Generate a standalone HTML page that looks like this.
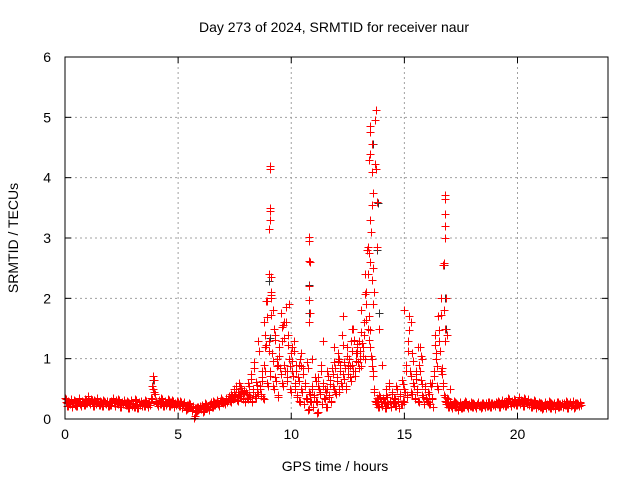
<!DOCTYPE html>
<html><head><meta charset="utf-8"><style>
html,body{margin:0;padding:0;background:#fff}
svg{display:block;font-family:"Liberation Sans",sans-serif}
</style></head><body>
<svg id="chart" width="640" height="480">
<rect width="640" height="480" fill="#fff"/>
<g id="grid"></g>
<g id="marks"></g>
<g id="axes"></g>
<text x="334" y="32" text-anchor="middle" font-size="14">Day 273 of 2024, SRMTID for receiver naur</text>
<text x="335" y="471" text-anchor="middle" font-size="14">GPS time / hours</text>
<text x="18" y="238" text-anchor="middle" font-size="14" transform="rotate(-90 18 238)">SRMTID / TECUs</text>
</svg>
<script>
const xTicks=[0,5,10,15,20];
const yTicks=[0,1,2,3,4,5,6];
const sampleStep=0.05;
const baseValues=[
.35,.28,.22,.30,.25,.33,.20,.27,.31,.24,.22,.29,.35,.26,.21,.30,.28,.24,.33,.27,
.38,.30,.25,.33,.28,.22,.31,.26,.35,.29,.24,.30,.27,.21,.32,.28,.25,.30,.22,.27,
.24,.30,.35,.27,.22,.31,.26,.33,.28,.20,.29,.25,.32,.27,.23,.30,.18,.26,.31,.22,
.27,.20,.33,.25,.18,.29,.24,.30,.22,.27,.21,.32,.26,.20,.28,.24,.35,.55,.72,.45,
.30,.26,.22,.31,.25,.35,.28,.21,.30,.24,.27,.33,.22,.29,.25,.31,.20,.27,.24,.30,
.26,.22,.30,.18,.25,.28,.21,.15,.24,.19,.26,.20,.14,.22,.02,.18,.12,.20,.15,.22,
.17,.24,.12,.20,.26,.18,.22,.15,.25,.28,.20,.30,.23,.27,.32,.26,.22,.30,.34,.28,
.30,.26,.35,.29,.33,.38,.30,.42,.35,.50,.40,.55,.32,.45,.60,.38,.52,.35,.48,.30,
.45,.35,.60,.40,.75,.30,.50,.95,.38,.62,.45,1.30,.55,.42,.70,.35,.90,1.40,1.95,.60,
1.30,.80,2.00,1.10,.55,1.50,.70,1.00,.40,1.20,.85,1.75,.60,1.55,.90,1.85,.70,1.40,1.00,.50,
1.10,.80,1.30,.55,.90,.40,.70,.30,1.00,.50,.85,.25,.60,.35,.95,.15,.45,.30,.55,.20,
.40,.70,.30,.10,.55,.45,.90,.25,.60,.35,.50,.20,.80,.40,.65,.30,.85,.55,.95,.45,
.70,1.10,.50,.90,.60,1.40,.75,.95,.55,1.20,.85,1.00,.70,1.30,.90,1.50,.80,1.10,1.25,.95,
1.30,1.00,1.45,1.20,1.60,2.40,1.90,2.80,1.50,1.70,1.20,1.00,.80,.50,.30,.25,.35,.20,.40,.30,
.22,.35,.28,.18,.40,.25,.60,.30,.20,.45,.28,.35,.22,.55,.30,.18,.42,.25,.65,.30,
.50,.90,.40,1.30,1.70,.80,.45,1.10,.60,.35,.75,.50,.30,.90,1.20,.65,.40,.25,.55,.35,
.30,.45,.25,.60,.35,.20,.80,1.40,1.00,.55,1.70,1.30,2.00,.85,.60,.40,.30,.25,.35,.20,
.28,.22,.18,.25,.30,.20,.26,.15,.22,.28,.18,.24,.20,.26,.30,.22,.18,.25,.21,.28,
.20,.26,.22,.18,.25,.28,.21,.24,.19,.27,.23,.20,.26,.22,.29,.24,.20,.27,.23,.25,
.22,.28,.25,.30,.20,.26,.32,.24,.28,.22,.30,.25,.35,.27,.22,.30,.26,.33,.28,.24,
.30,.36,.25,.32,.28,.22,.35,.30,.26,.33,.24,.29,.20,.27,.23,.31,.18,.25,.22,.28,
.20,.26,.17,.24,.28,.19,.25,.22,.30,.18,.26,.21,.27,.16,.23,.29,.20,.25,.22,.27,
.20,.26,.23,.30,.18,.25,.28,.21,.24,.30,.19,.27,.23,.26,.21,.28,.24];
const spikeTimes=[9.05,9.05,9.02,9.08,9.05,9.05,9.0,9.1,9.1,8.95,9.12,
10.8,10.8,10.78,10.82,10.8,10.8,10.85,10.8,
13.5,13.48,13.55,13.5,13.45,13.58,13.6,13.55,13.5,13.52,13.4,13.45,13.5,13.6,13.55,13.65,13.6,13.75,13.72,13.7,13.75,13.8,13.8,
16.8,16.8,16.8,16.78,16.8,16.72,16.76,16.82,16.75,16.8,16.78,
8.7,8.8,8.85,9.2,9.3,9.4,9.6,9.7,9.8,9.9,10.05,10.15,10.35,10.45,10.9,11.2,11.4,11.6,11.9,12.1,12.3,12.5,12.7,12.9,13.1,13.25,13.3,13.9,14.0,14.2,15.0,15.3,15.5,15.6,15.8,16.2,16.4,16.6,16.9,17.0];
const spikeValues=[3.5,3.45,3.15,3.3,4.15,4.2,2.4,2.35,2.1,1.95,2.05,
3.02,2.95,2.62,2.6,2.2,1.98,1.75,1.6,
4.85,4.75,4.55,4.4,4.3,4.1,3.75,3.55,3.3,3.1,2.85,2.75,2.6,2.5,2.3,2.1,1.9,5.12,4.95,4.22,4.15,3.6,2.85,
3.72,3.65,3.4,3.2,3.0,2.55,2.58,2.0,1.8,1.5,1.3,
.8,1.6,1.2,1.8,1.4,.9,1.3,1.6,.8,1.9,1.2,.6,.9,1.1,1.0,.7,1.3,.5,1.2,1.0,1.7,.9,1.5,1.2,1.8,1.0,2.1,1.5,.9,.5,1.8,1.6,.8,1.2,1.0,.6,1.1,.8,1.4,.5];
const blackTimes=[9.0,9.1,10.8,10.8,13.6,13.85,13.8,16.75,16.85,3.9,16.8,9.05,13.9];
const blackValues=[2.28,2.0,2.22,1.75,4.55,3.58,2.8,2.55,1.5,0.65,2.0,1.35,1.75];

const X0=65,X1=608,Y0=419,Y1=57,XMAX=24,YMAX=6;
const sx=t=>X0+(X1-X0)*t/XMAX;
const sy=v=>Y0-(Y0-Y1)*v/YMAX;
const NS="http://www.w3.org/2000/svg";
function mk(tag,attrs,parent){const e=document.createElementNS(NS,tag);for(const k in attrs)e.setAttribute(k,attrs[k]);parent.appendChild(e);return e;}
const grid=document.getElementById('grid'),axes=document.getElementById('axes'),marks=document.getElementById('marks');
xTicks.forEach(t=>{const x=sx(t);
 if(t>0){const g=mk('line',{x1:x,y1:Y0,x2:x,y2:Y1,stroke:'#a0a0a0','stroke-dasharray':'2,3'},grid);
 
 }
 mk('line',{x1:x,y1:Y0,x2:x,y2:Y0-6,stroke:'#000'},axes);
 mk('line',{x1:x,y1:Y1,x2:x,y2:Y1+6,stroke:'#000'},axes);
 const l=mk('text',{x:x,y:Y0+20,'text-anchor':'middle','font-size':'14'},axes);l.textContent=t;
 
 
});
yTicks.forEach(v=>{const y=sy(v);
 if(v>0&&v<YMAX){const g=mk('line',{x1:X0,y1:y,x2:X1,y2:y,stroke:'#a0a0a0','stroke-dasharray':'2,3'},grid);
 
 }
 mk('line',{x1:X0,y1:y,x2:X0+6,y2:y,stroke:'#000'},axes);
 mk('line',{x1:X1,y1:y,x2:X1-6,y2:y,stroke:'#000'},axes);
 const l=mk('text',{x:X0-14,y:y+5,'text-anchor':'end','font-size':'14'},axes);l.textContent=v;
 
 
});
const fr=mk('rect',{x:X0,y:Y1,width:X1-X0,height:Y0-Y1,fill:'none',stroke:'#000'},axes);


function plus(t,v,c){const x=Math.round(sx(t))+0.5,y=Math.round(sy(v))+0.5;
 const p=mk('path',{d:`M${x-4} ${y}H${x+4}M${x} ${y-4}V${y+4}`,stroke:c,'stroke-width':'1',fill:'none'},marks);
 
 }
blackTimes.forEach((t,i)=>plus(t,blackValues[i],'#333'));
baseValues.forEach((v,i)=>{const t=i*sampleStep;plus(t,v,'#ff0000');
 plus(t+0.025,v*0.85+0.03,'#ff0000');});
spikeTimes.forEach((t,i)=>plus(t,spikeValues[i],'#ff0000'));
</script>
</body></html>
